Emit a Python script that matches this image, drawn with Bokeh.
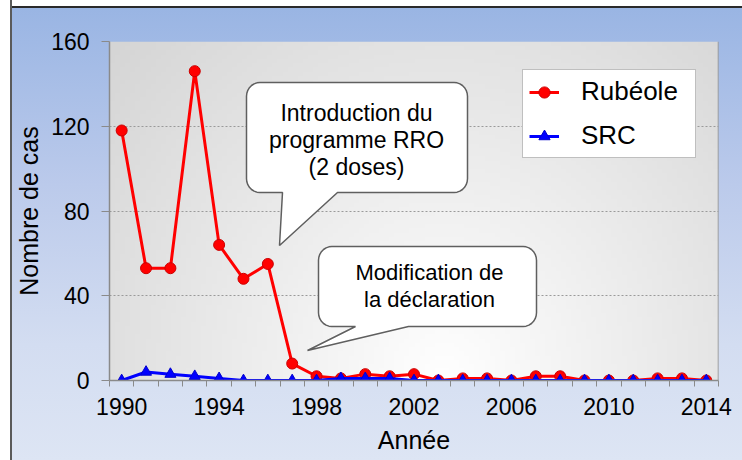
import numpy as np
from bokeh.plotting import figure
from bokeh.models import Range1d, FixedTicker, Label, Span, Legend
from bokeh.embed import file_html
from bokeh.resources import INLINE

# ---- data ----
years = list(range(1990, 2015))
rubeole = [118, 53, 53, 146, 64, 48, 55, 8, 2, 1, 3, 2, 3, 0, 1, 1, 0, 2, 2, 0, 0, 0, 1, 1, 0]
src = [0, 4, 3, 2, 1, 0, 0, 0, 0, 1, 1, 1, 0, 0, 0, 0, 0, 0, 0, 0, 0, 0, 0, 0, 0]
y_ticks = [0, 40, 80, 120, 160]
x_label_years = [1990, 1994, 1998, 2002, 2006, 2010, 2014]
series_names = ["Rubéole", "SRC"]
y_title = "Nombre de cas"
x_title = "Année"
note1 = ["Introduction du", "programme RRO", "(2 doses)"]
note2 = ["Modification de", "la déclaration"]

FONT = "Liberation Sans"
x0, x1 = years[0] - 0.5, years[-1] + 0.5
y0, y1 = 0, 160

# frame pixel geometry (for placing annotation boxes)
FL, FR, FT, FB = 109, 718, 41, 380
W, H = 742, 460

p = figure(width=W, height=H, output_backend="svg", toolbar_location=None,
           x_range=Range1d(x0, x1), y_range=Range1d(y0, y1),
           min_border_left=FL, min_border_right=W - FR, min_border_top=FT,
           min_border_bottom=H - FB)
p.border_fill_color = None
p.background_fill_color = None
p.outline_line_color = None
p.styles = {
    "background": "linear-gradient(to right, #ffffff 0px, #ffffff 10px, #5a5a5a 10px, #5a5a5a 12px, transparent 12px),"
                  "linear-gradient(to bottom, #ffffff 0px, #ffffff 6px, #2a2a2a 6px, #2a2a2a 8px, transparent 8px),"
                  "linear-gradient(to bottom, #98b4e3 0%, #bbcaeb 40%, #d3ddf1 75%, #dde5f4 100%)"
}

# plot-area gradient (style only)
nx, ny = 120, 80
fx = np.linspace(0, 1, nx)[None, :]
fy = np.linspace(0, 1, ny)[:, None]
d = np.sqrt(((fx - 0.55) / 0.55) ** 2 + (fy / 1.1) ** 2)
g = (255 - 42 * np.clip(d, 0, 1.35) / 1.35).astype(np.uint8)
img = np.empty((ny, nx), dtype=np.uint32)
view = img.view(dtype=np.uint8).reshape((ny, nx, 4))
view[:, :, 0] = g
view[:, :, 1] = g
view[:, :, 2] = g
view[:, :, 3] = 255
p.image_rgba(image=[img], x=x0, y=y0, dw=x1 - x0, dh=y1 - y0, level="image")

# grid
p.xgrid.visible = False
p.ygrid.grid_line_color = "#9a9a9a"
p.ygrid.grid_line_dash = "2 2"
p.ygrid.grid_line_width = 1
p.ygrid.ticker = FixedTicker(ticks=y_ticks)

p.add_layout(Span(location=x1, dimension="height", line_color="#8a8a8a", line_width=1.5))

# axes
p.xaxis.ticker = FixedTicker(ticks=x_label_years,
                             minor_ticks=[y - 0.5 for y in years] + [years[-1] + 0.5])
p.xaxis.major_tick_out = 0
p.xaxis.major_tick_in = 0
p.xaxis.minor_tick_out = 6
p.xaxis.minor_tick_in = 0
p.xaxis.minor_tick_line_color = "#8a8a8a"
p.xaxis.axis_line_color = "#8a8a8a"
p.xaxis.axis_line_width = 1.5
p.xaxis.major_label_standoff = 11

p.yaxis.ticker = FixedTicker(ticks=y_ticks)
p.yaxis.major_tick_out = 8
p.yaxis.major_tick_in = 0
p.yaxis.minor_tick_out = 0
p.yaxis.minor_tick_in = 0
p.yaxis.major_tick_line_color = "#8a8a8a"
p.yaxis.axis_line_color = "#8a8a8a"
p.yaxis.axis_line_width = 1.5
p.yaxis.major_label_standoff = 12

p.xaxis.axis_label = x_title
p.yaxis.axis_label = y_title
p.xaxis.axis_label_standoff = 8
p.yaxis.axis_label_standoff = 5

for ax in (p.xaxis, p.yaxis):
    ax.major_label_text_font = FONT
    ax.major_label_text_font_size = "23px"
    ax.major_label_text_color = "#000000"
    ax.axis_label_text_font = FONT
    ax.axis_label_text_font_size = "25px"
    ax.axis_label_text_font_style = "normal"
    ax.axis_label_text_color = "#000000"

# callouts
def px2x(px):
    return x0 + (px - FL) * (x1 - x0) / (FR - FL)

def py2y(py):
    return y0 + (FB - py) * (y1 - y0) / (FB - FT)

def bubble(bx0, bx1, by0, by1, tb0, tb1, tipx, tipy, rx=0.55, ry=6.5):
    xs, ys = [], []
    def arc(cx, cy, a0, a1):
        for a in np.linspace(a0, a1, 8):
            xs.append(cx + rx * np.cos(a))
            ys.append(cy + ry * np.sin(a))
    arc(bx0 + rx, by1 - ry, np.pi, np.pi / 2)
    arc(bx1 - rx, by1 - ry, np.pi / 2, 0)
    arc(bx1 - rx, by0 + ry, 0, -np.pi / 2)
    xs += [tb1, tipx, tb0]
    ys += [by0, tipy, by0]
    arc(bx0 + rx, by0 + ry, -np.pi / 2, -np.pi)
    return xs, ys

bx, by = bubble(px2x(246), px2x(467), py2y(192), py2y(82),
                px2x(282), px2x(337), px2x(279), py2y(245))
p.patch(bx, by, fill_color="white", line_color="#5f5f5f", line_width=1.5)
bx, by = bubble(px2x(318), px2x(536), py2y(326), py2y(246),
                px2x(355), px2x(408), px2x(307), py2y(350))
p.patch(bx, by, fill_color="white", line_color="#5f5f5f", line_width=1.5)

for txt, py in zip(note1, [112, 139, 166]):
    p.add_layout(Label(x=px2x(356), y=py2y(py), text=txt, text_align="center",
                       text_baseline="middle", text_font=FONT, text_font_size="23px",
                       text_color="#000000"))
for txt, py in zip(note2, [272, 299]):
    p.add_layout(Label(x=px2x(429), y=py2y(py), text=txt, text_align="center",
                       text_baseline="middle", text_font=FONT, text_font_size="22px",
                       text_color="#000000"))

# series
r1 = p.line(years, rubeole, line_color="#ff0000", line_width=3)
r1m = p.scatter(years, rubeole, marker="circle", size=11, fill_color="#ff0000",
                line_color="#cc0000", line_width=1)
r2 = p.line(years, src, line_color="#0000ff", line_width=3)
r2m = p.scatter(years, src, marker="triangle", size=11, fill_color="#0000ff",
                line_color="#0000cc", line_width=1)

legend = Legend(items=[(series_names[0], [r1, r1m]), (series_names[1], [r2, r2m])],
                location=(522 - FL, FB - 158), padding=6, spacing=13, margin=0,
                glyph_width=30, glyph_height=28, label_height=28, label_width=108,
                label_standoff=22, label_text_font=FONT, label_text_font_size="26px",
                label_text_color="#000000", border_line_color="#7f7f7f",
                border_line_width=1, background_fill_color="white",
                background_fill_alpha=1)
p.add_layout(legend)

open("out.html", "w").write(file_html(p, INLINE))
